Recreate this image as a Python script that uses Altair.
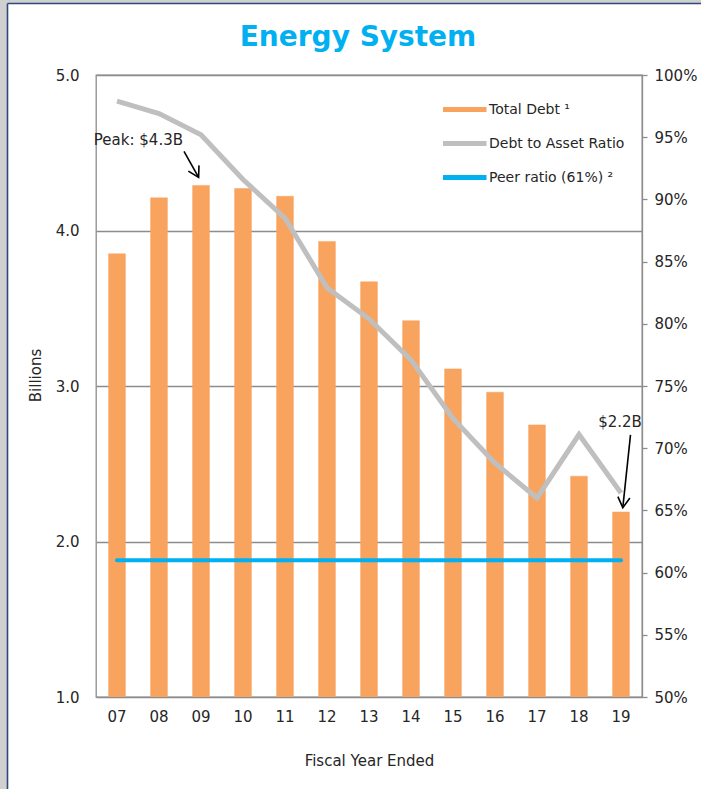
import altair as alt
import pandas as pd

# Fiscal years and the two plotted series
years = ["07", "08", "09", "10", "11", "12", "13", "14", "15", "16", "17", "18", "19"]
total_debt = [3.85, 4.21, 4.29, 4.27, 4.22, 3.93, 3.67, 3.42, 3.11, 2.96, 2.75, 2.42, 2.19]
debt_to_asset = [97.9, 96.9, 95.2, 91.6, 88.5, 82.9, 80.4, 77.1, 72.4, 68.8, 66.0, 71.1, 66.4]
peer_ratio = 61

series_names = ["Total Debt \u00b9", "Debt to Asset Ratio", f"Peer ratio ({peer_ratio}%) \u00b2"]
series_colors = ["#F8A35E", "#BFBFBF", "#00B0F0"]

left_ticks = [1, 2, 3, 4, 5]
right_ticks = [50, 55, 60, 65, 70, 75, 80, 85, 90, 95, 100]

FONT = "DejaVu Sans"
TEXT = "#262626"
GRID = "#8C8C8C"

debt_df = pd.DataFrame({"year": years, "debt": total_debt, "series": series_names[0]})
ratio_df = pd.DataFrame({"year": years, "pct": debt_to_asset, "series": series_names[1]})
peer_df = pd.DataFrame({"year": years, "pct": [peer_ratio] * len(years), "series": series_names[2]})

peak_i = total_debt.index(max(total_debt))
peak_df = pd.DataFrame({"year": [years[peak_i]], "debt": [total_debt[peak_i]],
                        "label": [f"Peak: ${total_debt[peak_i]:.1f}B"]})
last_df = pd.DataFrame({"year": [years[-1]], "debt": [total_debt[-1]],
                        "label": [f"${total_debt[-1]:.1f}B"]})

x_enc = alt.X(
    "year:N", sort=years,
    scale=alt.Scale(paddingInner=0.6, paddingOuter=0.3),
    axis=alt.Axis(title="Fiscal Year Ended", labelAngle=0, ticks=False, domain=False,
                  labelPadding=12, titlePadding=29, labelFontSize=15, titleFontSize=15),
)
y_left = alt.Y(
    "debt:Q",
    scale=alt.Scale(domain=[1, 5], nice=False, zero=False),
    axis=alt.Axis(values=left_ticks, format=".1f", title="Billions", grid=True,
                  gridColor=GRID, gridWidth=1.3, ticks=False, domain=False,
                  labelPadding=17, labelFontSize=15, titleFontSize=15,
                  titlePadding=12, titleY=300),
)
y_right = alt.Y(
    "pct:Q",
    scale=alt.Scale(domain=[50, 100], nice=False, zero=False),
    axis=alt.Axis(orient="right", values=right_ticks, labelExpr="datum.value + '%'",
                  title=None, grid=False, tickSize=5, tickColor=GRID, tickWidth=1.3,
                  domainColor=GRID, domainWidth=1.3, labelPadding=7, labelFontSize=15),
)

legend = alt.Legend(
    orient="none", legendX=358, legendY=17, title=None, padding=0,
    symbolType="M-1.9,0H1", symbolSize=900, symbolStrokeWidth=5,
    labelFont=FONT, labelFontSize=14, labelColor=TEXT, labelOffset=0, rowPadding=6,
)
stroke_enc = alt.Stroke("series:N", scale=alt.Scale(domain=series_names, range=series_colors),
                        legend=legend)

bars = alt.Chart(debt_df).mark_bar(fill=series_colors[0], strokeWidth=0.5, clip=True).encode(
    x=x_enc, y=y_left, stroke=stroke_enc
)

peak_text = alt.Chart(peak_df).mark_text(
    align="right", baseline="middle", dx=-18, dy=-45, font=FONT, fontSize=15, color=TEXT
).encode(x=x_enc, y=y_left, text="label:N")
peak_arrow = alt.Chart(peak_df).mark_rule(
    color="black", strokeWidth=1.6, xOffset=-17, x2Offset=-2.4, yOffset=-34, y2Offset=-8
).encode(x=x_enc, y=y_left, x2="year:N", y2="debt:Q")
peak_head = alt.Chart(peak_df).mark_point(
    shape="M-1,-0.58L0,0L-1,0.58", size=433, angle=61.7, filled=False, opacity=1,
    stroke="black", strokeWidth=1.6, xOffset=-2.4, yOffset=-8
).encode(x=x_enc, y=y_left)

last_text = alt.Chart(last_df).mark_text(
    align="center", baseline="middle", dx=-1, dy=-90, font=FONT, fontSize=15, color=TEXT
).encode(x=x_enc, y=y_left, text="label:N")
last_arrow = alt.Chart(last_df).mark_rule(
    color="black", strokeWidth=1.6, xOffset=9.5, x2Offset=1.8, yOffset=-77, y2Offset=-4.3
).encode(x=x_enc, y=y_left, x2="year:N", y2="debt:Q")
last_head = alt.Chart(last_df).mark_point(
    shape="M-1,-0.58L0,0L-1,0.58", size=433, angle=96, filled=False, opacity=1,
    stroke="black", strokeWidth=1.6, xOffset=1.8, yOffset=-4.3
).encode(x=x_enc, y=y_left)

left = alt.layer(bars, peak_text, peak_arrow, peak_head, last_text, last_arrow, last_head)

ratio_line = alt.Chart(ratio_df).mark_line(strokeWidth=5, strokeJoin="miter").encode(
    x=x_enc, y=y_right, stroke=stroke_enc
)
peer_line = alt.Chart(peer_df).mark_line(strokeWidth=4, strokeCap="round").encode(
    x=x_enc, y=y_right, stroke=stroke_enc
)
right = alt.layer(ratio_line, peer_line)

# page frame along the top and left edges
one = pd.DataFrame({"k": [0]})
frame = alt.layer(
    alt.Chart(one).mark_rect(color="#D0D0D0").encode(
        x=alt.value(-96), x2=alt.value(-89), y=alt.value(-75), y2=alt.value(714)),
    alt.Chart(one).mark_rect(color="#D0D0D0").encode(
        x=alt.value(-96), x2=alt.value(605), y=alt.value(-75), y2=alt.value(-72)),
    alt.Chart(one).mark_rule(color="#2E4A7D", strokeWidth=1.6).encode(
        x=alt.value(-88.5), y=alt.value(-71.5), y2=alt.value(714)),
    alt.Chart(one).mark_rule(color="#2E4A7D", strokeWidth=1.6).encode(
        x=alt.value(-88.5), x2=alt.value(605), y=alt.value(-71.5)),
)

chart = alt.layer(left, right, frame).resolve_scale(y="independent").properties(
    width=546, height=622,
    autosize=alt.AutoSizeParams(type="none"),
    padding={"left": 96, "top": 75, "right": 59, "bottom": 92},
    background="white",
    title=alt.TitleParams("Energy System", font=FONT, fontSize=28, fontWeight="bold",
                          color="#00B0F0", anchor="middle", baseline="bottom",
                          dx=-11, dy=80, offset=0),
).configure_view(stroke=GRID, strokeWidth=1.3).configure_axis(
    labelFont=FONT, titleFont=FONT, labelColor=TEXT, titleColor=TEXT, titleFontWeight="normal"
)

chart.save("out.html", embed_options={"renderer": "svg", "actions": False})
